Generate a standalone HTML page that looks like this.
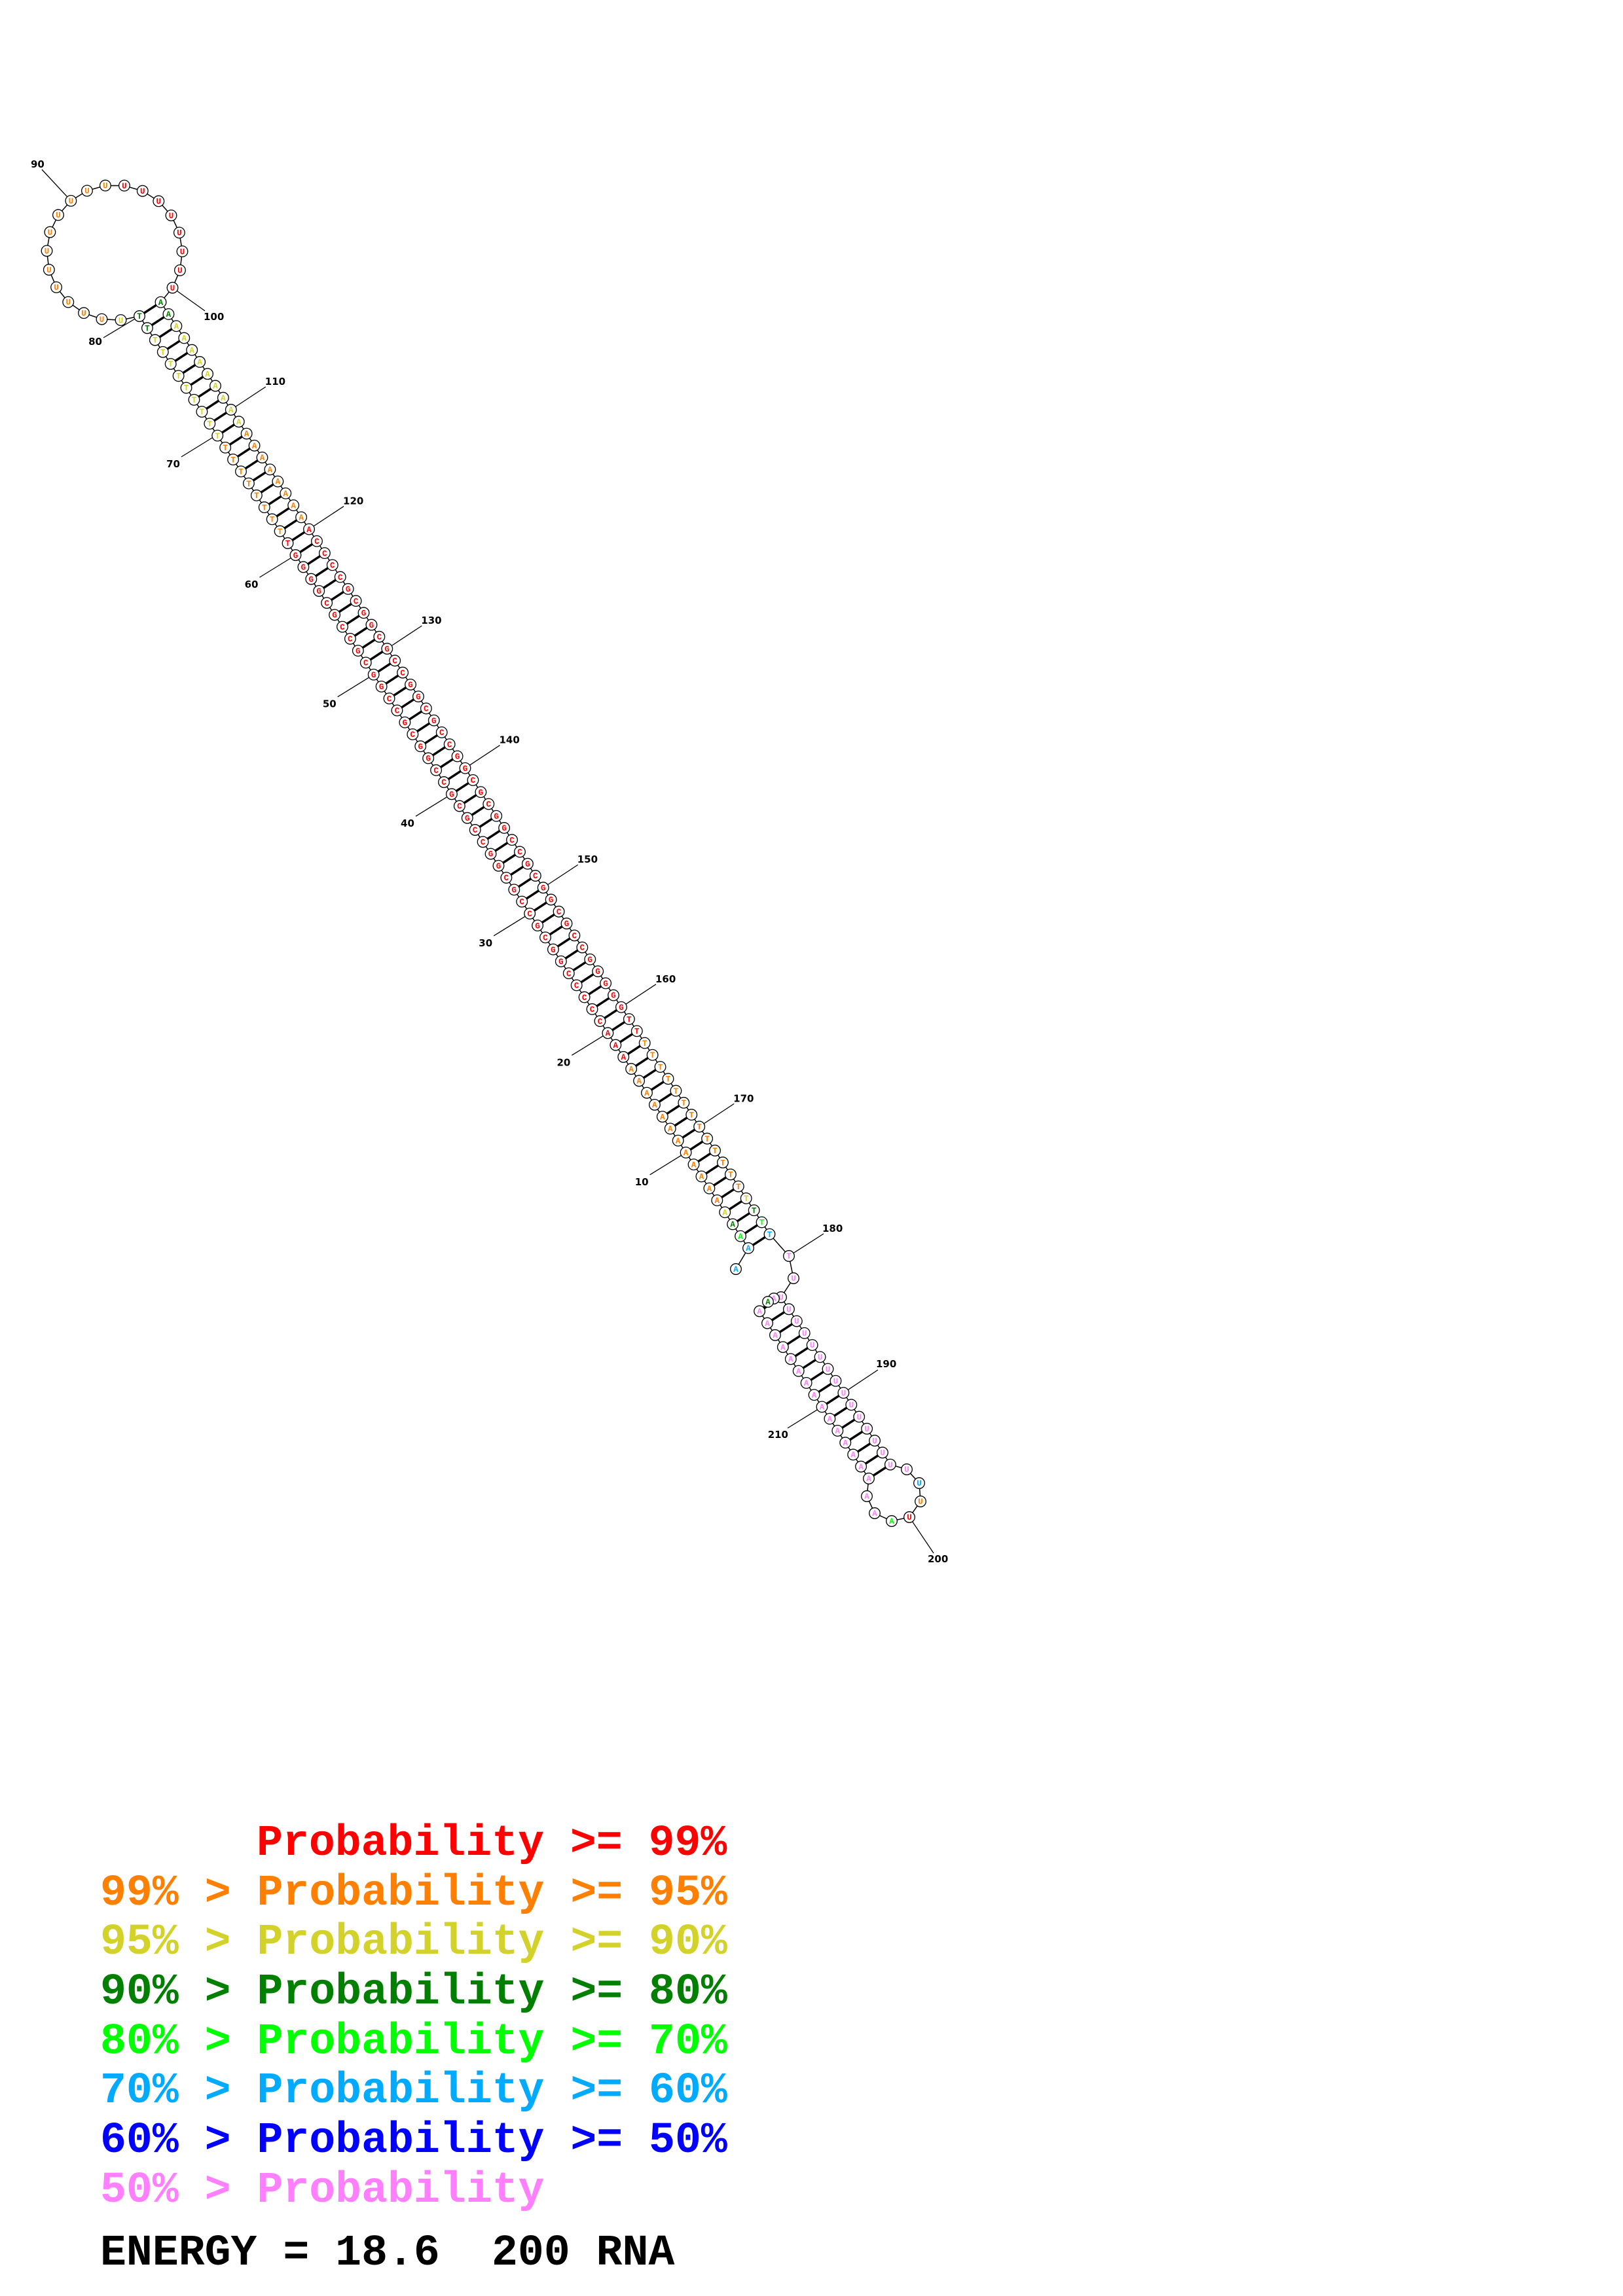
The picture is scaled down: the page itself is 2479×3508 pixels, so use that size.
<!DOCTYPE html>
<html><head><meta charset="utf-8"><style>
html,body{margin:0;padding:0;background:#fff;}
svg{display:block;}
.lg{font-family:"Liberation Mono",monospace;font-weight:bold;font-size:66.5px;}
.lb{font-family:"DejaVu Sans","Liberation Sans",sans-serif;font-size:15px;fill:#000;font-weight:bold;}
</style></head><body>
<svg id="s" width="2479" height="3508" viewBox="0 0 2479 3508" xmlns="http://www.w3.org/2000/svg">
<rect width="2479" height="3508" fill="#fff"/>
<g id="bb" stroke="#000" stroke-width="1.5" fill="none"></g>
<g id="pr" stroke="#000" stroke-width="3.5"></g>
<g stroke="#000" stroke-width="1.3">
<line x1="332" y1="664" x2="277" y2="698"/>
</g>
<g id="lbl" stroke="#000" stroke-width="1.3"></g>
<g id="nd"></g>
<g class="lb">
<text x="47" y="256">90</text>
<text x="311" y="489">100</text>
<text x="156" y="527" text-anchor="end">80</text>
<text x="1256" y="1882">180</text>
<text x="1338" y="2089">190</text>
<text x="1417" y="2387">200</text>
<text x="1204" y="2197" text-anchor="end">210</text>
<text x="275" y="714" text-anchor="end">70</text>
</g>
<g id="stemlbl" class="lb"></g>
<g class="lg">
<text x="392" y="2834" fill="#ff0000">Probability &gt;= 99%</text>
<text x="153" y="2910" fill="#ff7f00">99% &gt; Probability &gt;= 95%</text>
<text x="153" y="2985" fill="#d2d22a">95% &gt; Probability &gt;= 90%</text>
<text x="153" y="3061" fill="#007f00">90% &gt; Probability &gt;= 80%</text>
<text x="153" y="3137" fill="#00ff00">80% &gt; Probability &gt;= 70%</text>
<text x="153" y="3212" fill="#00aaff">70% &gt; Probability &gt;= 60%</text>
<text x="153" y="3288" fill="#0000ff">60% &gt; Probability &gt;= 50%</text>
<text x="153" y="3364" fill="#ff80ff">50% &gt; Probability</text>
<text x="153" y="3460" fill="#000">ENERGY = 18.6</text>
<text x="751" y="3460" fill="#000">200 RNA</text>
</g>
</svg>
<script>
(function(){
var NS="http://www.w3.org/2000/svg";
var P={},S={};
var R="#ff0000",O="#ff7f00",Y="#d2d22a",G="#007f00",L="#00ff00",B="#00aaff",K="#ff80ff";
function Lp(n){return [213+(80-n)*11.923,483+(80-n)*18.256];}
P[1]=[1124,1939];
for(var n=2;n<=80;n++){P[n]=Lp(n);var q=Lp(n);P[181-n]=[q[0]+32.5,q[1]-21.3];}
for(var k=1;k<=20;k++){var a=(68.6+16.13*k)*Math.PI/180;P[80+k]=[175+103.5*Math.cos(a),386+103.5*Math.sin(a)];}
P[180]=[1205,1919];P[181]=[1212,1953];
for(var m=182;m<=196;m++)P[m]=[1193+(m-182)*11.92,1982+(m-182)*18.26];
var lp={197:[1385,2245],198:[1404,2266],199:[1406,2294],200:[1389,2318],201:[1362,2324],202:[1336,2312],203:[1324,2286]};
for(var x in lp)P[x]=lp[x];
for(var m=204;m<=218;m++)P[m]=[1327-(m-204)*11.92,2259-(m-204)*18.26];
P[219]=[1173,1989];P[220]=[1182,1984];
var leftRed="CCCCCGGCGCCGCGGCCGCGCCGGCGCCGGCGCCGCGGCGG";
for(var n=1;n<=20;n++)S[n]="A";
for(var n=21;n<=61;n++)S[n]=leftRed.charAt(n-21)||"C";
S[61]="T";S[60]="G";S[59]="G";
for(var n=62;n<=80;n++)S[n]="T";
var comp={A:"T",T:"A",C:"G",G:"C"};
for(var n=2;n<=80;n++)S[181-n]=comp[S[n]];
for(var n=81;n<=100;n++)S[n]="U";
S[180]="T";
for(var m=181;m<=200;m++)S[m]="U";
for(var m=201;m<=220;m++)S[m]="A";
function col(n){
 if(n<=2)return B;if(n==3)return L;if(n==4)return G;if(n==5)return Y;
 if(n<=17)return O;if(n<=61)return R;if(n<=69)return O;if(n<=78)return Y;if(n<=80)return G;
 if(n==81)return Y;if(n<=92)return O;if(n<=100)return R;
 if(n<=102)return G;if(n<=111)return Y;if(n<=119)return O;if(n<=162)return R;if(n<=175)return O;
 if(n==176)return Y;if(n==177)return G;if(n==178)return L;if(n==179)return B;
 if(n<=197)return K;if(n==198)return B;if(n==199)return O;if(n==200)return R;if(n==201)return L;
 if(n==219)return G;return K;}
function el(t,a,p){var e=document.createElementNS(NS,t);for(var k in a)e.setAttribute(k,a[k]);p.appendChild(e);return e;}
var bb=document.getElementById("bb"),pr=document.getElementById("pr"),nd=document.getElementById("nd"),lb=document.getElementById("lbl"),sl=document.getElementById("stemlbl");
var d="M"+P[1][0]+" "+P[1][1];
for(var n=2;n<=220;n++)d+=" L"+P[n][0].toFixed(1)+" "+P[n][1].toFixed(1);
el("path",{d:d},bb);
function pl(a,b){el("line",{x1:P[a][0],y1:P[a][1],x2:P[b][0],y2:P[b][1]},pr);}
for(var n=2;n<=80;n++)pl(n,181-n);
for(var m=182;m<=196;m++)pl(m,400-m);
var ll=[[90,64,259],[100,313,475],[80,158,516],[180,1258,1885],[190,1341,2093],[200,1426,2373],[210,1203,2182]];
ll.forEach(function(v){el("line",{x1:P[v[0]][0],y1:P[v[0]][1],x2:v[1],y2:v[2]},lb);});
[10,20,30,40,50,60].forEach(function(n){var p=P[n];el("line",{x1:p[0],y1:p[1],x2:p[0]-55,y2:p[1]+34},lb);
 var t=el("text",{x:p[0]-57,y:p[1]+50,"text-anchor":"end"},sl);t.textContent=String(n);});
[110,120,130,140,150,160,170].forEach(function(n){var p=P[n];el("line",{x1:p[0],y1:p[1],x2:p[0]+53,y2:p[1]-35},lb);
 var t=el("text",{x:p[0]+52,y:p[1]-38},sl);t.textContent=String(n);});
var order=[];for(var n=1;n<=218;n++)order.push(n);order.push(220);order.push(219);
order.forEach(function(n){
 el("circle",{cx:P[n][0],cy:P[n][1],r:8.3,fill:"#fff",stroke:"#000","stroke-width":1.3},nd);
 var t=el("text",{x:P[n][0],y:P[n][1]+4.2,"text-anchor":"middle",fill:col(n),"font-family":"Liberation Mono, monospace","font-weight":"bold","font-size":"12.5"},nd);
 t.textContent=S[n];
});
})();
</script>
</body></html>
